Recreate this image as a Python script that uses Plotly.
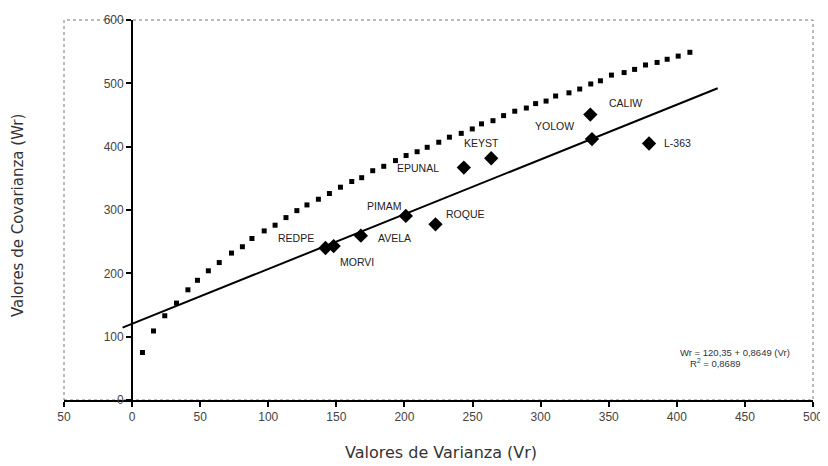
import plotly.graph_objects as go

# Limiting parabola points (Vr, Wr)
lim_vr = [7.6, 15.7, 24, 32.6, 41, 48, 56, 64, 73, 81, 88, 97, 105, 113, 121,
          128.4, 136.8, 144.9, 153, 161.3, 168.6, 176.7, 184.8, 193.4, 201.2,
          209.3, 216.7, 225.2, 233, 241.7, 249.8, 256.6, 265, 272.8, 281,
          289.5, 296.3, 304, 311, 320.8, 328.7, 336.8, 343.9, 352, 361.3,
          369, 377, 385.5, 392.9, 401, 409.6]
lim_wr = [75, 109, 133, 153, 174, 189, 204, 217, 232, 242, 255, 267, 276, 288, 299,
          308, 317, 326, 336, 345, 351, 362, 369, 378, 386,
          392, 399, 407, 415, 421, 428, 436, 441, 449, 456,
          461, 468, 472, 480, 485, 491, 499, 504, 513, 517,
          522, 529, 533, 538, 543, 549]

# Genotypes (Vr, Wr)
gen_names = ["REDPE", "MORVI", "AVELA", "PIMAM", "ROQUE", "EPUNAL", "KEYST", "YOLOW", "CALIW", "L-363"]
gen_vr = [142, 148, 168, 201, 222.8, 243.6, 263.7, 337.7, 336.5, 379.6]
gen_wr = [240, 243, 259.5, 290.7, 277.4, 367, 381.7, 412, 450.7, 405]

# Regression Wr = a + b*Vr
reg_a = 120.35
reg_b = 0.8649
reg_vr = [-7, 430]
reg_wr = [reg_a + reg_b * v for v in reg_vr]

x_ticks = [-50, 0, 50, 100, 150, 200, 250, 300, 350, 400, 450, 500]
x_ticktext = ["50", "0", "50", "100", "150", "200", "250", "300", "350", "400", "450", "500"]
y_ticks = [0, 100, 200, 300, 400, 500, 600]

# label positions (data coords) for genotype names
lab_pos = {
    "REDPE": (120.6, 256), "MORVI": (165.4, 217.5), "AVELA": (192.4, 256.4),
    "PIMAM": (184.8, 306.5), "ROQUE": (244.5, 293.8), "EPUNAL": (210.3, 367),
    "KEYST": (256.6, 406.5), "YOLOW": (310, 432.9), "CALIW": (362.6, 468.7),
    "L-363": (400.6, 406.5),
}

FONT = "Liberation Sans, Arial, sans-serif"
TFONT = "DejaVu Sans, sans-serif"
TXT = "#333333"

fig = go.Figure()
fig.add_trace(go.Scatter(x=lim_vr, y=lim_wr, mode="markers",
                         marker=dict(symbol="square", size=5, color="black"),
                         showlegend=False, hoverinfo="skip"))
fig.add_trace(go.Scatter(x=reg_vr, y=reg_wr, mode="lines",
                         line=dict(color="black", width=2),
                         showlegend=False, hoverinfo="skip"))
fig.add_trace(go.Scatter(x=gen_vr, y=gen_wr, mode="markers",
                         marker=dict(symbol="diamond", size=11, color="black"),
                         showlegend=False, text=gen_names))

annotations = []
for n in gen_names:
    lx, ly = lab_pos[n]
    annotations.append(dict(x=lx, y=ly, xref="x", yref="y", text=n, showarrow=False,
                            font=dict(family=FONT, size=10.5, color="#222222"),
                            xanchor="center", yanchor="middle"))

annotations += [
    dict(x=443, y=75, xref="x", yref="y", text="Wr = 120,35 + 0,8649 (Vr)", showarrow=False,
         font=dict(family=FONT, size=9.5, color=TXT), xanchor="center", yanchor="middle"),
    dict(x=428, y=58, xref="x", yref="y", text="R<sup>2</sup> = 0,8689", showarrow=False,
         font=dict(family=FONT, size=9.5, color=TXT), xanchor="center", yanchor="middle"),
    dict(x=0.503, y=-0.139, xref="paper", yref="paper", text="Valores de Varianza (Vr)",
         showarrow=False, font=dict(family=TFONT, size=16, color=TXT),
         xanchor="center", yanchor="middle"),
    dict(x=-0.0614, y=0.484, xref="paper", yref="paper", text="Valores de Covarianza (Wr)",
         showarrow=False, textangle=-90, font=dict(family=TFONT, size=15, color=TXT),
         xanchor="center", yanchor="middle"),
]

# page body adds an 8px offset; figure sized to compensate
fig.update_layout(
    width=820, height=458,
    margin=dict(l=56, r=15, t=12, b=66, autoexpand=False),
    paper_bgcolor="white", plot_bgcolor="white",
    font=dict(family=FONT, color=TXT),
    annotations=annotations,
    shapes=[dict(type="rect", xref="paper", yref="paper", x0=0, x1=1, y0=0, y1=1,
                 line=dict(color="#777777", width=1, dash="dot"), layer="below")],
    xaxis=dict(range=[-50, 500], tickvals=x_ticks, ticktext=x_ticktext,
               showgrid=False, zeroline=False, showline=True, linecolor="black",
               linewidth=2, ticks="outside", ticklen=5, tickwidth=2, tickcolor="black",
               automargin=False,
               tickfont=dict(family=FONT, size=12, color="#444444")),
    yaxis=dict(range=[0, 600], tickvals=y_ticks, anchor="free", position=50/550,
               showgrid=False, zeroline=False, showline=True, linecolor="black",
               linewidth=2, ticks="outside", ticklen=5, tickwidth=2, tickcolor="black",
               automargin=False,
               tickfont=dict(family=FONT, size=12, color="#444444")),
)

fig.write_html("out.html")
